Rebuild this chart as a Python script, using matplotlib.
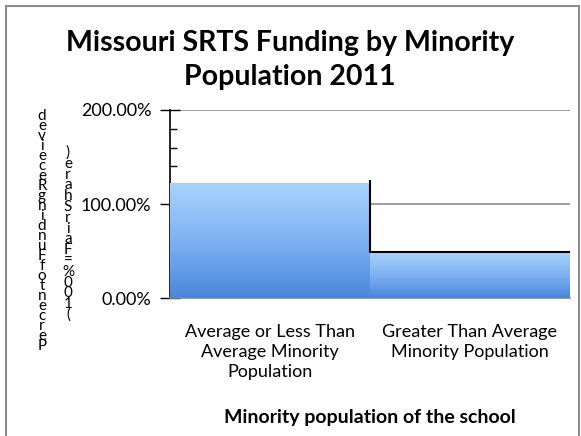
import matplotlib.pyplot as plt
import numpy as np
from matplotlib.ticker import FuncFormatter, MultipleLocator

categories = ["Average or Less Than\nAverage Minority\nPopulation",
              "Greater Than Average\nMinority Population"]
values = [1.22, 0.48]
title = "Missouri SRTS Funding by Minority\nPopulation 2011"
xlabel = "Minority population of the school"
ylabel1 = "Percent of Funding Received"
ylabel2 = "(100% = Fair Share)"

plt.rcParams["font.family"] = ["Lato", "DejaVu Sans"]

fig = plt.figure(figsize=(5.81, 4.36), dpi=100)
ax = fig.add_axes([170 / 581, 1 - 298 / 436, 400 / 581, 188 / 436])

x = np.arange(len(values))
bars = ax.bar(x, values, width=1.0, color="none", edgecolor="none", zorder=3)

# vertical gradient fill for each bar
grad = np.linspace(0, 1, 256).reshape(-1, 1)
cmap = plt.matplotlib.colors.LinearSegmentedColormap.from_list(
    "blu", ["#4a86db", "#7fb2f3", "#a9d2fb"])
for b in bars:
    x0, y0 = b.get_x(), b.get_y()
    w, h = b.get_width(), b.get_height()
    im = ax.imshow(grad, cmap=cmap, aspect="auto", origin="lower",
                   extent=[x0, x0 + w, y0, y0 + h], zorder=3)
    im.set_clip_path(b)

# dark shadow edge between bars
ax.plot([x[0] + 0.5, x[0] + 0.5, x[1] + 0.5],
        [values[0] + 0.03, values[1] + 0.01, values[1] + 0.01],
        color="black", lw=1.5, zorder=4, solid_capstyle="butt")

ax.set_xlim(-0.5, 1.5)
ax.set_ylim(0, 2.0)
ax.yaxis.set_major_locator(MultipleLocator(1.0))
ax.yaxis.set_minor_locator(MultipleLocator(0.2))
ax.yaxis.set_major_formatter(FuncFormatter(lambda v, p: f"{v * 100:.2f}%"))
ax.tick_params(axis="y", which="major", direction="inout", length=14, width=1,
               labelsize=13, pad=6.5)
ax.tick_params(axis="y", which="minor", direction="in", length=5, width=1)
ax.set_xticks(x)
ax.set_xticklabels(categories, fontsize=13, linespacing=1.3)
ax.tick_params(axis="x", length=0, pad=19)

ax.grid(axis="y", color="#8c8c8c", lw=1.2, zorder=1)
for s in ["top", "right"]:
    ax.spines[s].set_visible(False)
ax.spines["bottom"].set_color("#8c8c8c")
ax.spines["bottom"].set_linewidth(1.2)
ax.spines["left"].set_linewidth(1.2)
ax.set_axisbelow(True)

ax.set_xlabel(xlabel, fontsize=14, fontweight="bold", labelpad=21)
fig.text(290 / 581, 1 - 60 / 436, title, ha="center", va="center",
         fontsize=20.5, fontweight="bold", linespacing=1.35)

# stacked, reversed y-axis label characters
chars1 = list(reversed(ylabel1.replace(" ", "")))
for i, c in enumerate(chars1):
    fig.text(42 / 581, 1 - (116 + i * 10.0) / 436, c, ha="center",
             va="center", fontsize=11)
chars2 = list(reversed(ylabel2.replace(" ", "")))
for i, c in enumerate(chars2):
    fig.text(68 / 581, 1 - (153 + i * 10.8) / 436, c, ha="center",
             va="center", fontsize=11)

# chart area border
border = plt.Rectangle((6 / 581, -0.05), 573 / 581, 1.05 - 6 / 436,
                       transform=fig.transFigure, fill=False,
                       edgecolor="#8c8c8c", lw=1.5)
fig.add_artist(border)

fig.savefig("out.png", dpi=100)
